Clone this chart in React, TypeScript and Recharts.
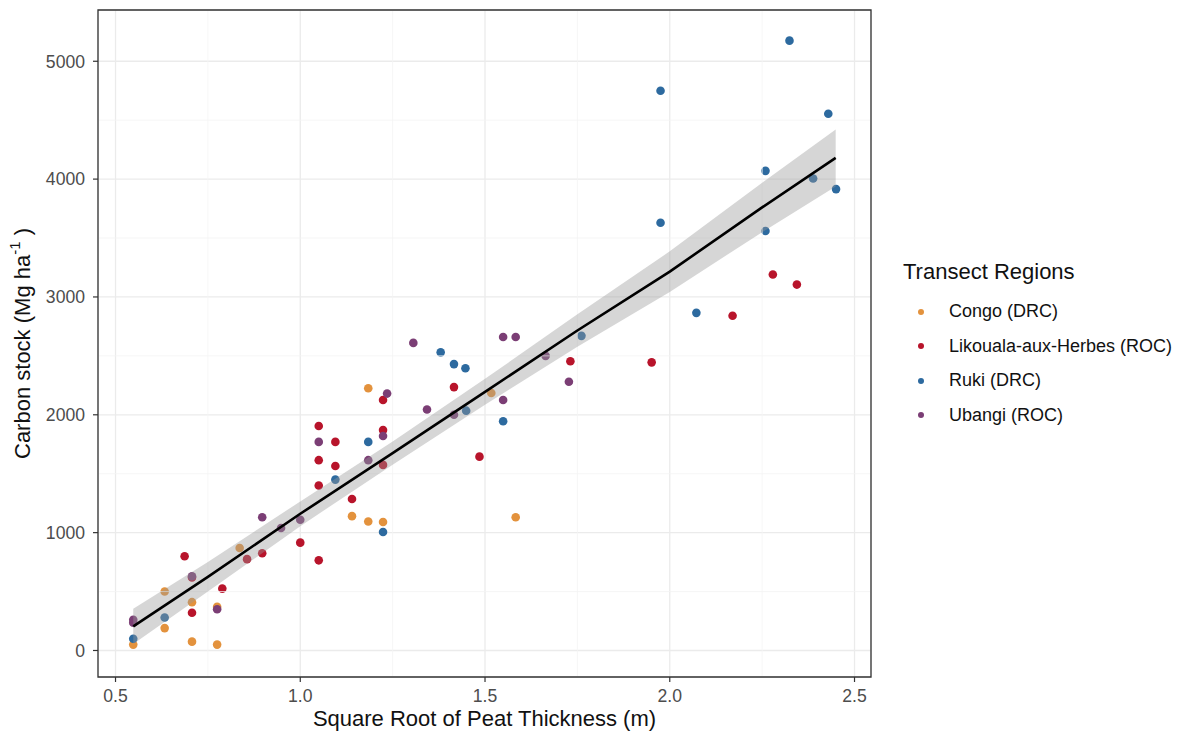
import React from 'react';
import {
  ComposedChart,
  Scatter,
  Area,
  Line,
  XAxis,
  YAxis,
  CartesianGrid,
  ReferenceLine,
  ReferenceArea,
  Legend,
} from 'recharts';

type Pt = { x: number; y: number };

// points, grouped by transect region
const congo: Pt[] = [
  { x: 0.548, y: 50 }, { x: 0.633, y: 500 }, { x: 0.633, y: 190 }, { x: 0.707, y: 410 },
  { x: 0.707, y: 75 }, { x: 0.775, y: 370 }, { x: 0.775, y: 50 }, { x: 0.836, y: 870 },
  { x: 1.14, y: 1140 }, { x: 1.184, y: 1095 }, { x: 1.224, y: 1090 }, { x: 1.184, y: 2225 },
  { x: 1.517, y: 2185 }, { x: 1.583, y: 1130 },
];

const likouala: Pt[] = [
  { x: 0.687, y: 800 }, { x: 0.707, y: 620 }, { x: 0.707, y: 320 }, { x: 0.789, y: 525 },
  { x: 0.856, y: 775 }, { x: 0.897, y: 825 }, { x: 1.0, y: 915 }, { x: 1.05, y: 765 },
  { x: 1.05, y: 1905 }, { x: 1.05, y: 1615 }, { x: 1.05, y: 1400 }, { x: 1.095, y: 1770 },
  { x: 1.095, y: 1565 }, { x: 1.14, y: 1285 }, { x: 1.224, y: 2125 }, { x: 1.224, y: 1870 },
  { x: 1.224, y: 1575 }, { x: 1.416, y: 2235 }, { x: 1.485, y: 1645 }, { x: 1.731, y: 2455 },
  { x: 1.951, y: 2445 }, { x: 2.17, y: 2840 }, { x: 2.279, y: 3190 }, { x: 2.344, y: 3105 },
];

const ruki: Pt[] = [
  { x: 0.548, y: 100 }, { x: 0.633, y: 280 }, { x: 1.095, y: 1450 }, { x: 1.184, y: 1770 },
  { x: 1.224, y: 1005 }, { x: 1.38, y: 2530 }, { x: 1.416, y: 2430 }, { x: 1.447, y: 2395 },
  { x: 1.449, y: 2035 }, { x: 1.549, y: 1945 }, { x: 1.761, y: 2670 }, { x: 1.975, y: 4750 },
  { x: 1.975, y: 3630 }, { x: 2.072, y: 2865 }, { x: 2.259, y: 4070 }, { x: 2.259, y: 3560 },
  { x: 2.324, y: 5175 }, { x: 2.388, y: 4005 }, { x: 2.429, y: 4555 }, { x: 2.45, y: 3915 },
];

const ubangi: Pt[] = [
  { x: 0.548, y: 260 }, { x: 0.548, y: 235 }, { x: 0.707, y: 630 }, { x: 0.775, y: 350 },
  { x: 0.897, y: 1130 }, { x: 0.948, y: 1040 }, { x: 1.0, y: 1110 }, { x: 1.05, y: 1770 },
  { x: 1.184, y: 1615 }, { x: 1.224, y: 1820 }, { x: 1.235, y: 2180 }, { x: 1.306, y: 2610 },
  { x: 1.343, y: 2045 }, { x: 1.416, y: 2000 }, { x: 1.549, y: 2660 }, { x: 1.583, y: 2660 },
  { x: 1.549, y: 2125 }, { x: 1.664, y: 2500 }, { x: 1.727, y: 2280 },
];

const regions = [
  { name: 'Congo (DRC)', color: '#E3923D', data: congo },
  { name: 'Likouala-aux-Herbes (ROC)', color: '#B8142B', data: likouala },
  { name: 'Ruki (DRC)', color: '#2D6A9F', data: ruki },
  { name: 'Ubangi (ROC)', color: '#7B3E75', data: ubangi },
];

// fitted line and its confidence band, read at a few x positions
const fitX = [0.548, 0.75, 1.0, 1.25, 1.5, 1.75, 2.0, 2.25, 2.449];
const fitY = [205, 625, 1160, 1675, 2195, 2715, 3215, 3760, 4180];
const bandLo = [55, 500, 1055, 1577, 2085, 2577, 3043, 3550, 3938];
const bandHi = [355, 750, 1265, 1773, 2305, 2853, 3387, 3970, 4422];

const xTicks = [0.5, 1.0, 1.5, 2.0, 2.5];
const xMinor = [0.75, 1.25, 1.75, 2.25];
const yTicks = [0, 1000, 2000, 3000, 4000, 5000];
const yMinor = [500, 1500, 2500, 3500, 4500];
const xDomain: [number, number] = [0.4526, 2.5446];
const yDomain: [number, number] = [-225, 5435];

const fitData = fitX.map((x, i) => ({ x, fit: fitY[i], band: [bandLo[i], bandHi[i]] }));

const YTitle = (props: any) => {
  const vb = props.viewBox || { x: 0, y: 10, width: 98, height: 667 };
  const cx = vb.x + 22;
  const cy = vb.y + vb.height / 2;
  return (
    <text
      x={cx}
      y={cy}
      transform={`rotate(-90, ${cx}, ${cy})`}
      textAnchor="middle"
      dominantBaseline="central"
      fontSize={22}
      fill="#111"
    >
      Carbon stock (Mg ha
      <tspan dy={-8} fontSize={15}>-1</tspan>
      <tspan dy={8}> )</tspan>
    </text>
  );
};

const XTitle = (props: any) => {
  const vb = props.viewBox || { x: 98, y: 677, width: 773, height: 59 };
  return (
    <text x={vb.x + vb.width / 2} y={vb.y + 49} textAnchor="middle" fontSize={22} fill="#111">
      Square Root of Peat Thickness (m)
    </text>
  );
};

const LegendBox = () => (
  <div style={{ fontFamily: '"Liberation Sans", Arial, sans-serif', color: '#111' }}>
    <div style={{ fontSize: 22, lineHeight: '28px', height: 28 }}>Transect Regions</div>
    <div style={{ marginTop: 8 }}>
      {regions.map((r) => (
        <div key={r.name} style={{ position: 'relative', height: 34.5 }}>
          <span
            style={{
              position: 'absolute',
              left: 15,
              top: 14.5,
              width: 6,
              height: 6,
              borderRadius: 3,
              background: r.color,
            }}
          />
          <span style={{ position: 'absolute', left: 46, top: 5, fontSize: 18, lineHeight: '24px', whiteSpace: 'nowrap' }}>
            {r.name}
          </span>
        </div>
      ))}
    </div>
  </div>
);

export default function App() {
  return (
    <div
      style={{
        position: 'absolute',
        left: 0,
        top: 0,
        width: 1186,
        height: 736,
        background: '#fff',
        fontFamily: '"Liberation Sans", Arial, sans-serif',
      }}
    >
      <ComposedChart
        width={1186}
        height={736}
        data={fitData}
        margin={{ top: 10, right: 315, bottom: 0, left: 0 }}
      >
        <CartesianGrid stroke="#ebebeb" strokeWidth={1.3} />
        {xMinor.map((v) => (
          <ReferenceLine key={'xm' + v} x={v} stroke="#f4f4f4" strokeWidth={0.8} />
        ))}
        {yMinor.map((v) => (
          <ReferenceLine key={'ym' + v} y={v} stroke="#f4f4f4" strokeWidth={0.8} />
        ))}
        <XAxis
          dataKey="x"
          type="number"
          domain={xDomain}
          ticks={xTicks}
          allowDataOverflow
          tickFormatter={(v: number) => v.toFixed(1)}
          height={59}
          axisLine={false}
          tickSize={5}
          tickMargin={8}
          tickLine={{ stroke: '#333', strokeWidth: 1.2 }}
          tick={{ fill: '#4d4d4d', fontSize: 17.6 }}
          label={<XTitle />}
        />
        <YAxis
          type="number"
          domain={yDomain}
          ticks={yTicks}
          allowDataOverflow
          width={98}
          axisLine={false}
          tickSize={5}
          tickMargin={8}
          tickLine={{ stroke: '#333', strokeWidth: 1.2 }}
          tick={{ fill: '#4d4d4d', fontSize: 17.6 }}
          label={<YTitle />}
        />
        {regions.map((r) => (
          <Scatter
            key={r.name}
            name={r.name}
            data={r.data}
            dataKey="y"
            fill={r.color}
            isAnimationActive={false}
            zIndex={300}
            shape={(p: any) => <circle cx={p.cx} cy={p.cy} r={4.3} fill={r.color} />}
          />
        ))}
        <Area
          dataKey="band"
          type="linear"
          stroke="none"
          fill="#999999"
          fillOpacity={0.4}
          isAnimationActive={false}
          zIndex={700}
          legendType="none"
        />
        <Line
          dataKey="fit"
          type="linear"
          stroke="#000"
          strokeWidth={2.6}
          dot={false}
          isAnimationActive={false}
          zIndex={800}
          legendType="none"
        />
        <ReferenceArea
          x1={xDomain[0]}
          x2={xDomain[1]}
          y1={yDomain[0]}
          y2={yDomain[1]}
          fill="none"
          stroke="#333"
          strokeWidth={1.3}
          zIndex={900}
        />
        <Legend
          layout="vertical"
          align="center"
          verticalAlign="middle"
          wrapperStyle={{ left: 903, top: 258, width: 283 }}
          content={() => <LegendBox />}
        />
      </ComposedChart>
    </div>
  );
}
